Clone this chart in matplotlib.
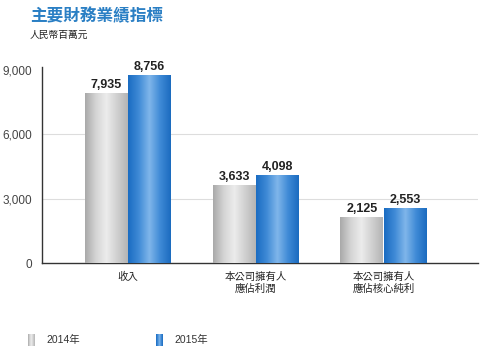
import numpy as np
import matplotlib
matplotlib.use("Agg")
import matplotlib.pyplot as plt
from matplotlib.colors import LinearSegmentedColormap

plt.rcParams['font.family'] = ['Liberation Sans', 'Noto Sans CJK TC', 'DejaVu Sans']

categories = ['收入', '本公司擁有人\n應佔利潤', '本公司擁有人\n應佔核心純利']
values_2014 = [7935, 3633, 2125]
values_2015 = [8756, 4098, 2553]
series_names = ['2014年', '2015年']
yticks = [0, 3000, 6000, 9000]

fig = plt.figure(figsize=(4.8, 3.6), dpi=100)
ax = fig.add_axes([0.0875, 0.2694, 0.9075, 0.5446])

gray_cmap = LinearSegmentedColormap.from_list('g', ['#a9a9a9', '#d4d4d4', '#ececec', '#d0d0d0', '#b4b4b4'])
blue_cmap = LinearSegmentedColormap.from_list('b', ['#1a6cc2', '#3f8ad6', '#7fb6ea', '#3f8ad6', '#1b6bbf'])

x = np.arange(len(categories))
w = 0.336
off = 0.17
bars1 = ax.bar(x - off, values_2014, width=w, color='#cccccc', zorder=2)
bars2 = ax.bar(x + off, values_2015, width=w, color='#2f7fd0', zorder=2)

grad = np.linspace(0, 1, 256).reshape(1, -1)
for bars, cmap in ((bars1, gray_cmap), (bars2, blue_cmap)):
    for b in bars:
        x0, y0 = b.get_x(), b.get_y()
        im = ax.imshow(grad, cmap=cmap, aspect='auto',
                       extent=[x0, x0 + b.get_width(), y0, y0 + b.get_height()],
                       zorder=3)
        im.set_clip_path(b)

for bars, vals in ((bars1, values_2014), (bars2, values_2015)):
    for b, v in zip(bars, vals):
        ax.text(b.get_x() + b.get_width() / 2, v + 100, f'{v:,}',
                ha='center', va='bottom', fontsize=9, fontweight='bold', color='#222222', zorder=4)

ax.set_xlim(-0.672, 2.734)
ax.set_ylim(0, 9150)
ax.set_yticks(yticks)
ax.set_yticklabels([f'{v:,}' for v in yticks], fontsize=8.5, color='#444444')
ax.set_xticks(x)
ax.set_xticklabels(categories, fontsize=7.5, color='#222222', linespacing=1.3)
ax.tick_params(axis='both', length=0)
ax.tick_params(axis='y', pad=7)
ax.tick_params(axis='x', pad=6)
for yv in yticks[1:3]:
    ax.axhline(yv, color='#dddddd', lw=0.8, zorder=1)
for s in ['top', 'right']:
    ax.spines[s].set_visible(False)
ax.spines['left'].set_color('#333333')
ax.spines['bottom'].set_color('#333333')
ax.spines['left'].set_linewidth(1.0)
ax.spines['bottom'].set_linewidth(1.0)

fig.text(30 / 480, 1 - 16 / 360, '主要財務業績指標', fontsize=12, color='#2a7fc4',
         ha='left', va='center', fontweight='bold')
fig.text(30 / 480, 1 - 35 / 360, '人民幣百萬元', fontsize=7, color='#222222',
         ha='left', va='center')

# legend
for i, (name, cmap) in enumerate(zip(series_names, (gray_cmap, blue_cmap))):
    lx = (28 + i * 128) / 480
    ly = 1 - 346 / 360
    lax = fig.add_axes([lx, ly, 7 / 480, 12 / 360])
    lax.imshow(grad, cmap=cmap, aspect='auto')
    lax.axis('off')
    fig.text(lx + 18 / 480, 1 - 340 / 360, name, fontsize=7.5, color='#333333',
             ha='left', va='center')

fig.savefig('out.png', dpi=100)
